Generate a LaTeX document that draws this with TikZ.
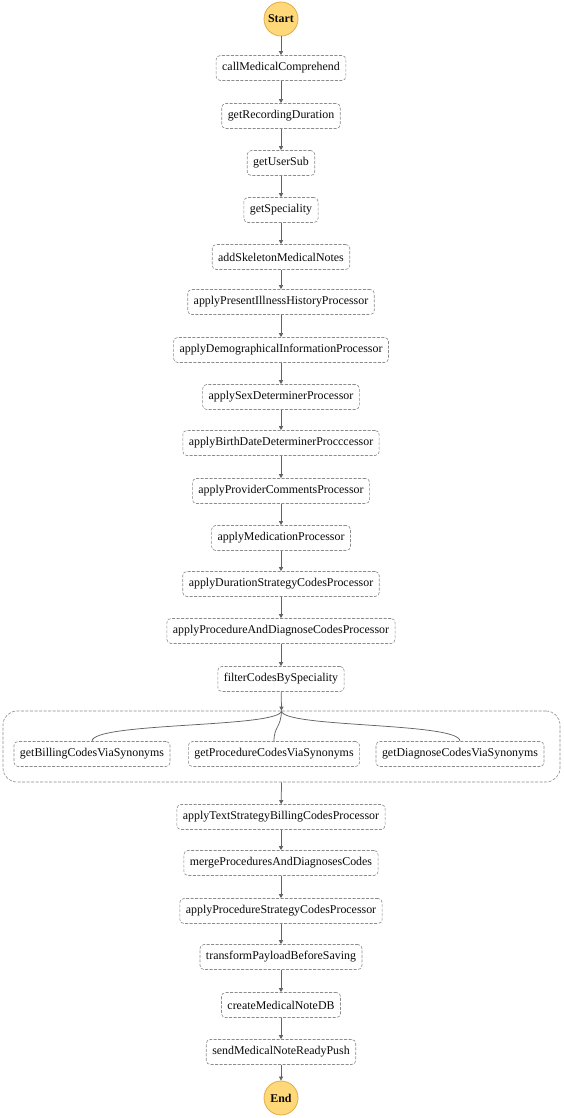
\documentclass[tikz,border=0pt]{standalone}
\usepackage{fontspec}
\setmainfont{Liberation Serif}
\usepackage{xcolor}
\usetikzlibrary{arrows.meta,positioning}
\definecolor{sfGray}{RGB}{140,140,140}
\definecolor{sfLine}{RGB}{100,100,100}
\definecolor{sfText}{RGB}{10,10,10}
\definecolor{sfYellow}{RGB}{255,216,122}
\definecolor{sfYellowDark}{RGB}{226,172,70}

\begin{document}
\begin{tikzpicture}[x=1pt,y=-1pt,
    font=\fontsize{11.9}{14}\selectfont,
    stepbox/.style={draw=sfGray, dash pattern=on 3pt off 1.5pt, rounded corners=4pt,
        line width=0.6pt, minimum height=25pt, inner xsep=6pt, text=sfText, fill=white},
    terminal/.style={circle, draw=sfYellowDark, fill=sfYellow, line width=0.8pt,
        minimum size=34pt, inner sep=0pt, text=sfText},
    flow/.style={sfLine, line width=0.75pt, -{Triangle[width=4pt,length=4pt]}},
    branch/.style={sfLine, line width=0.75pt}]
    \useasboundingbox (0,0) rectangle (563,1118);

    \node[terminal] (start) at (281,19) {\bfseries Start};

    % sequential steps
    \foreach \n/\txt/\y in {
        1/callMedicalComprehend/68,
        2/getRecordingDuration/116,
        3/getUserSub/163,
        4/getSpeciality/210,
        5/addSkeletonMedicalNotes/257,
        6/applyPresentIllnessHistoryProcessor/302,
        7/applyDemographicalInformationProcessor/350,
        8/applySexDeterminerProcessor/397,
        9/applyBirthDateDeterminerProcccessor/443,
        10/applyProviderCommentsProcessor/491,
        11/applyMedicationProcessor/538,
        12/applyDurationStrategyCodesProcessor/584,
        13/applyProcedureAndDiagnoseCodesProcessor/631,
        14/filterCodesBySpeciality/679,
        15/applyTextStrategyBillingCodesProcessor/817,
        16/mergeProceduresAndDiagnosesCodes/863,
        17/applyProcedureStrategyCodesProcessor/911,
        18/transformPayloadBeforeSaving/957,
        19/createMedicalNoteDB/1005,
        20/sendMedicalNoteReadyPush/1052}
        \node[stepbox] (s\n) at (281,\y) {\txt};

    % parallel block
    \node[draw=sfGray, dash pattern=on 3pt off 1.5pt, line width=0.6pt, rounded corners=14pt,
        minimum width=557pt, minimum height=71pt] (par) at (281.5,746.5) {};
    \node[stepbox] (b1) at (92,754) {getBillingCodesViaSynonyms};
    \node[stepbox] (b2) at (274,754) {getProcedureCodesViaSynonyms};
    \node[stepbox] (b3) at (460,754) {getDiagnoseCodesViaSynonyms};

    \node[terminal] (end) at (281,1098) {\bfseries End};

    % connectors
    \draw[flow] (start) -- (s1);
    \foreach \a [evaluate=\a as \b using int(\a+1)] in {1,...,13,15,16,17,18,19}
        \draw[flow] (s\a) -- (s\b);
    \draw[flow] (s20) -- (end);
    \draw[flow] (s14) -- (par.north);
    \draw[flow] (par.south) -- (s15);

    \draw[branch] (par.north) .. controls (281,728) and (92,722) .. (b1.north);
    \draw[branch] (par.north) .. controls (281,728) and (274,726) .. (b2.north);
    \draw[branch] (par.north) .. controls (281,728) and (460,722) .. (b3.north);
\end{tikzpicture}
\end{document}
